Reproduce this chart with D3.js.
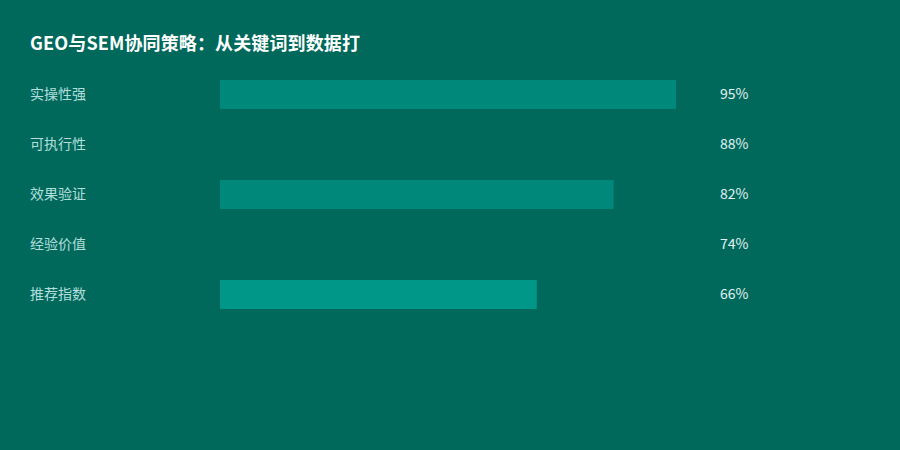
<!DOCTYPE html>
<meta charset="utf-8">
<style type="text/css">

body {
  margin: 0;
  background: #00695c;
}

svg {
  display: block;
  font-family: "Noto Sans CJK SC", "Noto Sans", sans-serif;
}

.title {
  fill: #ffffff;
  font-size: 18px;
  font-weight: bold;
}

.label {
  fill: #b2dfdb;
  font-size: 14px;
}

.value {
  fill: #e0f2f1;
  font-size: 14px;
}

</style>
<body>

<div id="chart"></div>

<script src="https://d3js.org/d3.v7.min.js"></script>
<script>
var width = 900,
    height = 450;

// data
var categories = ['实操性强', '可执行性', '效果验证', '经验价值', '推荐指数'];
var values = [95, 88, 82, 74, 66];
var valueLabels = ['95%', '88%', '82%', '74%', '66%'];
var barColors = ['#00897b', '#00695c', '#00897b', '#00695c', '#009688'];

var rows = categories.map(function(c, i) {
  return { 'name': c, 'value': values[i], 'text': valueLabels[i], 'color': barColors[i] };
});

var svg = d3.select('#chart').append('svg')
    .attr('width', width)
    .attr('height', height);

svg.append('rect')
    .attr('width', width)
    .attr('height', height)
    .attr('fill', '#00695c');

svg.append('text')
    .attr('class', 'title')
    .attr('x', 30)
    .attr('y', 50)
    .attr('textLength', 330)
    .text('GEO与SEM协同策略：从关键词到数据打');

var x = d3.scaleLinear()
    .domain([0, 100])
    .range([220, 700]);

var y = d3.scaleBand()
    .domain(categories)
    .range([69.5, 319.5])
    .paddingInner(0.42)
    .paddingOuter(0.21);

var row = svg.selectAll('g.row')
    .data(rows)
  .enter()
    .append('g')
      .attr('class', 'row');

row.append('rect')
    .attr('x', x(0))
    .attr('y', function(d) { return y(d.name); })
    .attr('width', function(d) { return x(d.value) - x(0); })
    .attr('height', y.bandwidth())
    .attr('fill', function(d) { return d.color; });

// text sits a touch above the band centre
row.append('text')
    .attr('class', 'label')
    .attr('x', 30)
    .attr('y', function(d) { return y(d.name) + y.bandwidth() / 2 - 2; })
    .attr('dominant-baseline', 'central')
    .text(function(d) { return d.name; });

row.append('text')
    .attr('class', 'value')
    .attr('x', 720)
    .attr('y', function(d) { return y(d.name) + y.bandwidth() / 2 - 2; })
    .attr('dominant-baseline', 'central')
    .text(function(d) { return d.text; });
</script>
